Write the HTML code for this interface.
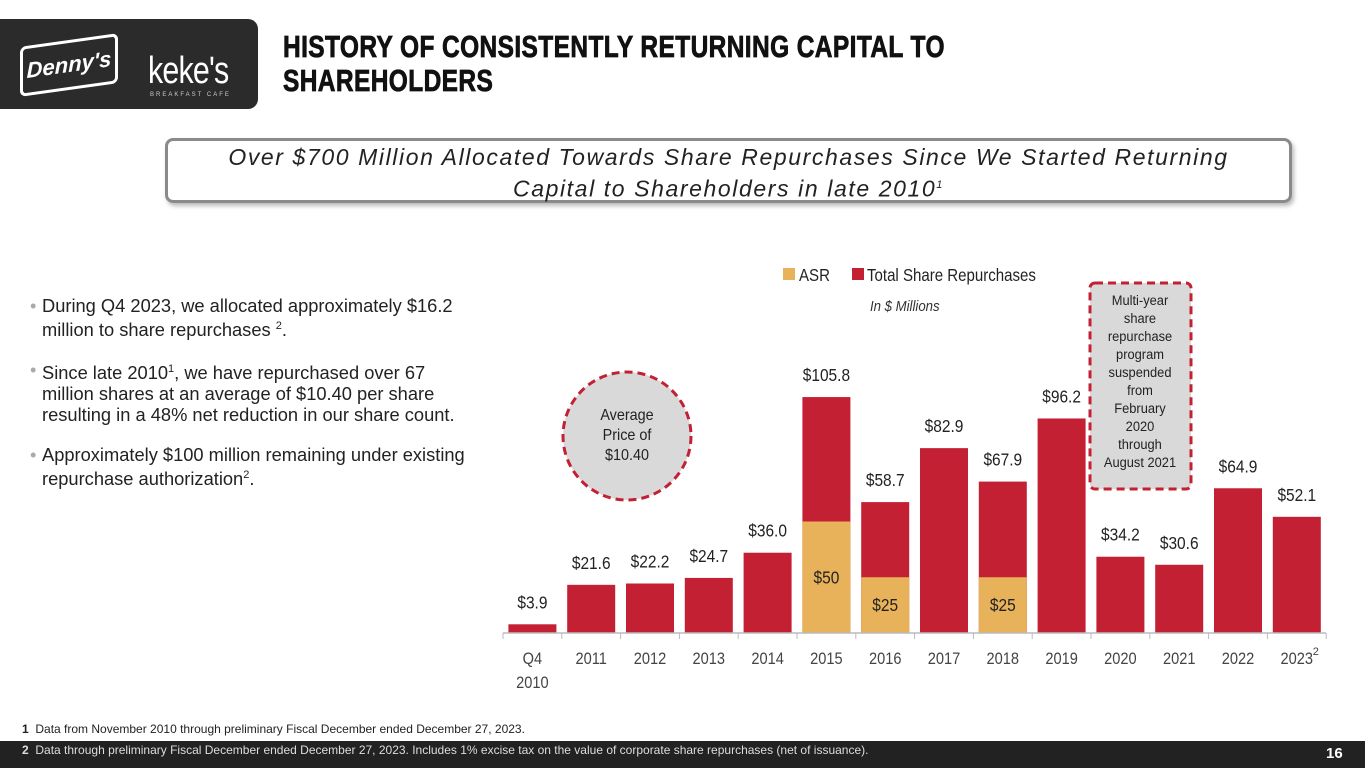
<!DOCTYPE html>
<html><head><meta charset="utf-8"><style>
body{margin:0;width:1365px;height:768px;position:relative;background:#fff;font-family:"Liberation Sans",sans-serif;overflow:hidden}
.abs{position:absolute}
.title{left:283px;top:30px;font-size:31px;font-weight:bold;line-height:34px;color:#111;transform:scaleX(0.79);transform-origin:left top;letter-spacing:0.5px;-webkit-text-stroke:0.8px #111}
.sub{left:165px;top:138px;width:1121px;height:57px;border:3px solid #8a8a8a;border-radius:8px;box-shadow:2px 3px 4px #bbb;text-align:center;font-style:italic;font-size:23px;letter-spacing:1.6px;line-height:28px;color:#222;padding-top:2px;box-sizing:content-box}
ul{margin:0;padding:0;list-style:none}
li{position:relative;padding-left:12px;font-size:18.3px;line-height:21px;color:#222;margin-bottom:19px}
li:before{content:"•";position:absolute;left:0;color:#aaa}
sup{font-size:11px}
</style></head><body>
<div class="abs" style="left:0;top:19px;width:258px;height:90px;background:#2b2b2b;border-radius:0 10px 10px 0"></div>
<div class="abs" style="left:20px;top:40px;width:92px;height:44px;border:3px solid #fff;border-radius:6px;transform:skewY(-8deg);color:#fff;font-weight:bold;font-size:22px;text-align:center;line-height:44px;font-style:italic">Denny's</div>
<div class="abs" style="left:148px;top:50px;color:#fff;font-size:38px;letter-spacing:-1px;transform:scaleX(0.8);transform-origin:left">keke's</div>
<div class="abs" style="left:150px;top:92px;color:#ccc;font-size:6px;letter-spacing:2px">BREAKFAST CAFE</div>
<div class="abs title">HISTORY OF CONSISTENTLY RETURNING CAPITAL TO<br>SHAREHOLDERS</div>
<div class="abs sub">Over $700 Million Allocated Towards Share Repurchases Since We Started Returning<br>Capital to Shareholders in late 2010<sup>1</sup></div>
<div class="abs" style="left:30px;top:295px;width:560px">
<ul>
<li>During Q4 2023, we allocated approximately $16.2<br>million to share repurchases <sup>2</sup>.</li>
<li>Since late 2010<sup>1</sup>, we have repurchased over 67<br>million shares at an average of $10.40 per share<br>resulting in a 48% net reduction in our share count.</li>
<li>Approximately $100 million remaining under existing<br>repurchase authorization<sup>2</sup>.</li>
</ul></div>
<svg class="abs" style="left:0;top:0" width="1365" height="768">
<g>
<rect x="783" y="268" width="12" height="12" fill="#e8b25a"/>
<text font-size="17.5" fill="#222" transform="translate(799 281) scale(0.86 1)">ASR</text>
<rect x="852" y="268" width="12" height="12" fill="#c42033"/>
<text font-size="17.5" fill="#222" transform="translate(867 281) scale(0.86 1)">Total Share Repurchases</text>
</g>
<text font-size="15" font-style="italic" fill="#333" transform="translate(870 311) scale(0.88 1)">In $ Millions</text>
<g id="bars"></g>
<line x1="503" y1="633" x2="1326" y2="633" stroke="#bbb" stroke-width="1.5"/>
<g id="ticks"></g>
<circle cx="627" cy="436" r="64" fill="#d9d9d9" stroke="#c42033" stroke-width="3" stroke-dasharray="8 5"/>
<text text-anchor="middle" font-size="16" fill="#222" transform="translate(627 0) scale(0.9 1)"><tspan x="0" y="420">Average</tspan><tspan x="0" y="440">Price of</tspan><tspan x="0" y="460">$10.40</tspan></text>
<rect x="1090" y="283" width="101" height="206" rx="5" fill="#d9d9d9" stroke="#c42033" stroke-width="3" stroke-dasharray="8 5"/>
<text text-anchor="middle" font-size="14" fill="#222" transform="translate(1140 0) scale(0.92 1)"><tspan x="0" y="305">Multi-year</tspan><tspan x="0" y="323">share</tspan><tspan x="0" y="341">repurchase</tspan><tspan x="0" y="359">program</tspan><tspan x="0" y="377">suspended</tspan><tspan x="0" y="395">from</tspan><tspan x="0" y="413">February</tspan><tspan x="0" y="431">2020</tspan><tspan x="0" y="449">through</tspan><tspan x="0" y="467">August 2021</tspan></text>
</svg>
<div class="abs" style="left:22px;top:722px;font-size:12px;color:#222"><b>1</b>&nbsp; Data from November 2010 through preliminary Fiscal December ended December 27, 2023.</div>
<div class="abs" style="left:0;top:741px;width:1365px;height:27px;background:#222"></div>
<div class="abs" style="left:22px;top:743px;font-size:12px;color:#ddd"><b>2</b>&nbsp; Data through preliminary Fiscal December ended December 27, 2023. Includes 1% excise tax on the value of corporate share repurchases (net of issuance).</div>
<div class="abs" style="left:1326px;top:745px;font-size:15px;font-weight:bold;color:#fff">16</div>
<script>
const categories=["Q4|2010","2011","2012","2013","2014","2015","2016","2017","2018","2019","2020","2021","2022","2023"];
const totals=[3.9,21.6,22.2,24.7,36.0,105.8,58.7,82.9,67.9,96.2,34.2,30.6,64.9,52.1];
const asr=[0,0,0,0,0,50,25,0,25,0,0,0,0,0];
const totalLabels=["$3.9","$21.6","$22.2","$24.7","$36.0","$105.8","$58.7","$82.9","$67.9","$96.2","$34.2","$30.6","$64.9","$52.1"];
const asrLabels=["","","","","","$50","$25","","$25","","","","",""];
const NS="http://www.w3.org/2000/svg";
const x0=503,step=58.8,base=633,k=2.23,bw=48;
const xs=i=>x0+step*i+step/2, ys=v=>base-v*k;
const bars=document.getElementById('bars'),ticks=document.getElementById('ticks');
function mk(t,a,p){const e=document.createElementNS(NS,t);for(const n in a)e.setAttribute(n,a[n]);p.appendChild(e);return e;}
function txt(p,x,y,s,size,fill){const t=mk('text',{x:0,y:0,'text-anchor':'middle','font-size':size,fill:fill,transform:'translate('+x+' '+y+') scale(0.86 1)'},p);t.textContent=s;return t;}
categories.forEach((c,i)=>{
 const cx=xs(i);
 const r=mk('rect',{x:cx-bw/2,y:ys(totals[i]),width:bw,height:totals[i]*k,fill:'#c42033'},bars);
 
 
 if(asr[i]>0){const a=mk('rect',{x:cx-bw/2,y:ys(asr[i]),width:bw,height:asr[i]*k,fill:'#e8b25a'},bars);
  
  
  const at=txt(bars,cx,ys(asr[i]/2)+6,asrLabels[i],18,'#222');
  
  }
 const t=txt(bars,cx,ys(totals[i])-16,totalLabels[i],18,'#222');
 
 
 mk('line',{x1:x0+step*i,y1:base,x2:x0+step*i,y2:base+6,stroke:'#bbb'},ticks);
 const parts=c.split('|');
 parts.forEach((p,j)=>{const l=txt(ticks,cx,base+31+j*24,p,17,'#444');
  
  });
 if(i==13){const s=mk('text',{x:cx+16,y:base+22,'font-size':11,fill:'#444'},ticks);s.textContent='2';}
});
mk('line',{x1:x0+step*14,y1:base,x2:x0+step*14,y2:base+6,stroke:'#bbb'},ticks);
</script>
</body></html>
